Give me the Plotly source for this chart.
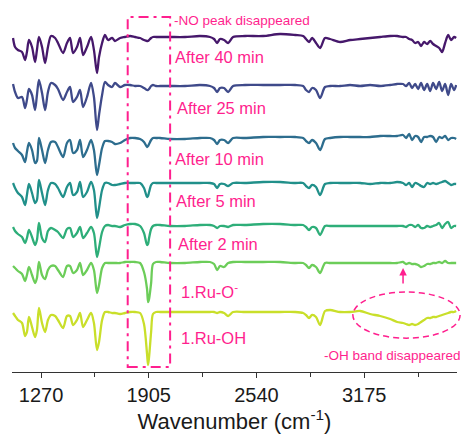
import plotly.graph_objects as go

# Shared wavenumber grid (cm-1)
wavenumber = [
    1105, 1117, 1134, 1158, 1176, 1187, 1199, 1217, 1235, 1246,
    1258, 1276, 1294, 1311, 1329, 1353, 1370, 1400, 1423, 1441,
    1459, 1482, 1500, 1518, 1541, 1565, 1582, 1600, 1612, 1630,
    1647, 1665, 1689, 1706, 1736, 1765, 1795, 1824, 1854, 1877,
    1895, 1901, 1907, 1919, 1930, 1948, 1972, 2031, 2119, 2207, 2266,
    2290, 2308, 2325, 2349, 2373, 2402, 2473, 2579, 2679, 2768,
    2815, 2832, 2850, 2868, 2891, 2915, 2944, 2974, 3033, 3092,
    3151, 3210, 3269, 3328, 3369, 3404, 3422, 3440, 3457, 3475,
    3493, 3510, 3528, 3546, 3564, 3581, 3599, 3617, 3634, 3652,
    3670, 3687, 3705, 3717,
]

# Relative transmittance (a.u.) of each spectrum
after_40min = [
    0, -9, -12, -14, -22, -14, -2, -9, -24, -12,
    1, -9, -25, -9, 2, 0, -5, -15, -5, 0,
    -15, -9, 0, -17, -9, 1, -12, -35, -19, -5,
    3, -2, 0, -3, 0, 1, 2, 1, 0, -2,
    -3, -3, -2, 0, 1, 1, 1, 1, 1, 2, 1,
    -1, -5, -1, -2, -5, 1, 2, 2, 4, 3,
    2, -1, -4, 0, -5, -10, 0, -1, -4, -2,
    -1, 0, 1, 2, 2, 1, 1, -1, -2, -5,
    -4, -8, -4, -6, -3, -6, -8, -10, -14, -5,
    3, -2, 1, 0,
]
after_25min = [
    2, -6, -12, -11, -22, -14, -3, -9, -24, -9,
    6, -7, -24, -6, 3, 1, -3, -14, -6, -1,
    -16, -11, -4, -21, -11, 3, -11, -44, -29, -9,
    4, 1, -1, 3, -1, 1, 1, 0, 0, -2,
    -4, -4, -3, 0, 1, 0, 0, 0, 0, 1, 0,
    -2, -6, -2, -2, -6, 0, 1, 1, 1, 1,
    0, -4, -6, -2, -4, -12, -1, 0, 0, 1,
    0, 1, 0, 1, 2, 2, 0, 3, -2, 2,
    -3, 3, -4, 2, -5, 3, -3, 4, -5, 2,
    -9, 2, -4, 1,
]
after_10min = [
    -4, -9, -12, -16, -23, -13, -4, -11, -24, -22,
    1, -11, -24, -11, -3, -3, -8, -18, -4, -1,
    -14, -11, -1, -18, -11, -1, -11, -36, -26, -9,
    -2, -2, -3, -5, -4, -1, 1, 1, 0, -3,
    -8, -7, -5, -1, 1, 1, 1, 0, 0, 1, 1,
    -1, -5, -1, -1, -4, 1, 1, 2, 2, 2,
    1, -2, -4, -1, -4, -11, 0, 1, 2, 2,
    2, 2, 3, 3, 3, 4, 1, 5, -1, 3,
    2, -3, 2, 2, 3, 2, -3, 2, 1, 3,
    -1, 1, 1, 0,
]
after_5min = [
    0, -5, -10, -14, -22, -12, -1, -10, -20, -17,
    3, -10, -22, -7, 0, -1, -5, -14, -4, 0,
    -12, -9, 1, -14, -9, 1, -7, -35, -25, -7,
    0, 0, -2, -2, -1, 0, 0, 0, 0, -5,
    -14, -13, -9, -2, 0, 0, 0, 0, 0, 0, 0,
    -1, -5, -1, -1, -3, 0, 0, 1, 1, 0,
    0, -3, -5, -2, -4, -12, -1, 0, 0, 0,
    0, -1, 0, 0, 1, 0, -2, 0, -4, 0,
    -1, -3, -4, 0, -1, 0, -1, 0, 1, 2,
    0, -2, -1, -1,
]
after_2min = [
    -1, -5, -8, -11, -17, -12, -4, -11, -19, -14,
    3, -12, -16, -5, -2, -4, -6, -12, -3, -2,
    -11, -7, -1, -12, -7, -1, -7, -31, -22, -6,
    0, 1, 0, 0, -1, 1, 2, 2, 0, -7,
    -19, -18, -12, -3, 0, 1, 1, 0, 0, 1, 1,
    0, -2, 0, 0, -1, 1, 1, 2, 2, 1,
    1, -1, -4, -1, -2, -9, 0, 0, 0, 0,
    0, 0, 0, 0, 0, 0, -1, 1, 1, -1,
    1, -2, -2, 0, -1, 0, 1, 3, -2, 2,
    4, -2, 0, 0,
]
ru_o_minus = [
    -3, -5, -8, -11, -18, -12, -4, -12, -20, -15,
    1, -12, -16, -7, -3, -3, -7, -14, -3, -3,
    -10, -7, 0, -12, -7, 0, -7, -30, -22, -5,
    0, 0, 0, 0, 0, 1, 1, 1, 0, -9,
    -26, -39, -36, -20, -1, 1, 1, 0, 0, 1, 1,
    -1, -7, -3, -4, 0, 1, 1, 1, 1, 0,
    0, -2, -5, -2, -4, -10, 0, 0, 0, 0,
    0, 0, 0, 0, 0, 1, -1, 0, -1, -1,
    -2, -4, -3, -1, -1, 0, 0, 1, 0, 2,
    0, 0, 0, 0,
]
ru_oh = [
    -1, -4, -8, -11, -24, -20, -5, -15, -25, -18,
    4, -11, -20, -8, -3, -4, -8, -16, -4, -4,
    -13, -8, -1, -15, -8, -1, -11, -38, -30, -8,
    0, 0, -1, -1, -2, -1, 0, 0, -1, -12,
    -42, -53, -45, -20, -2, 0, 0, 0, 0, 0, 0,
    0, -1, 0, -1, -4, 0, 0, 0, 0, 0,
    -1, -3, -6, -3, -5, -13, 1, 2, 0, 0,
    1, -2, -4, -7, -10, -11, -12, -13, -12, -13,
    -12, -10, -8, -6, -6, -5, -5, -4, -3, -2,
    -1, 0, 0, 1,
]

series = [after_40min, after_25min, after_10min, after_5min, after_2min, ru_o_minus, ru_oh]
labels = ["After 40 min", "After 25 min", "After 10 min", "After 5 min",
          "After 2 min", "1.Ru-O<sup>-</sup>", "1.Ru-OH"]
offsets = [334, 286, 233, 189, 146, 109, 60]
colors = ["#46186b", "#3f4a8a", "#2d6d8e", "#21908a", "#2eae79", "#6ccd59", "#c9df2a"]
label_x = [2050, 2062, 2050, 2056, 2068, 2085, 2085]
label_y = [315, 264, 213, 171, 128, 81, 34]

PINK = "#ff1f8e"
FONT = "Liberation Sans, Arial, sans-serif"

fig = go.Figure()
for vals, off, col in zip(series, offsets, colors):
    fig.add_trace(go.Scatter(
        x=wavenumber, y=[v + off for v in vals], mode="lines",
        line=dict(color=col, width=2.3, shape="spline", smoothing=0.8),
        hoverinfo="skip", showlegend=False))

annotations = []
for txt, lx, ly in zip(labels, label_x, label_y):
    annotations.append(dict(x=lx, y=ly, xref="x", yref="y", text=txt, showarrow=False,
                            xanchor="left", yanchor="middle",
                            font=dict(family=FONT, size=16.5, color=PINK)))
annotations.append(dict(x=2040, y=352, xref="x", yref="y", text="-NO peak disappeared",
                        showarrow=False, xanchor="left", yanchor="middle",
                        font=dict(family=FONT, size=13.5, color=PINK)))
annotations.append(dict(x=2925, y=17, xref="x", yref="y", text="-OH band disappeared",
                        showarrow=False, xanchor="left", yanchor="middle",
                        font=dict(family=FONT, size=13.5, color=PINK)))
annotations.append(dict(x=3404, y=104, ax=3404, ay=87, xref="x", yref="y",
                        axref="x", ayref="y", text="", showarrow=True,
                        arrowhead=2, arrowsize=1, arrowwidth=1.5, arrowcolor=PINK))

shapes = [
    dict(type="rect", xref="x", yref="y", x0=1781, x1=2031, y0=5, y1=355,
         line=dict(color=PINK, width=2, dash="10px,5px,3px,5px")),
    dict(type="circle", xref="paper", yref="paper", x0=0.766, x1=1.007, y0=0.091, y1=0.215,
         line=dict(color=PINK, width=1.5, dash="6px,4px")),
]

fig.update_layout(
    width=462, height=438,
    margin=dict(l=12, r=5, t=0, b=66),
    plot_bgcolor="white", paper_bgcolor="white",
    showlegend=False,
    annotations=annotations, shapes=shapes,
    xaxis=dict(
        range=[1099, 3722], showgrid=False, zeroline=False,
        showline=True, linecolor="#333333", linewidth=1.3,
        ticks="outside", ticklen=5, tickwidth=1.3, tickcolor="#333333",
        tickmode="linear", tick0=1270, dtick=635,
        minor=dict(tick0=1270, dtick=317.5, ticks="outside", ticklen=4,
                   tickwidth=1.3, tickcolor="#333333", showgrid=False),
        tickfont=dict(family=FONT, size=20, color="#1a1a1a"),
        title=dict(text="Wavenumber (cm<sup>-1</sup>)", standoff=5,
                   font=dict(family=FONT, size=22, color="#1a1a1a")),
    ),
    yaxis=dict(range=[0, 372], visible=False, showgrid=False, zeroline=False),
)

fig.write_html("out.html", config={"displayModeBar": False},
               post_script="document.body.style.margin='0';document.body.style.overflow='hidden';")
